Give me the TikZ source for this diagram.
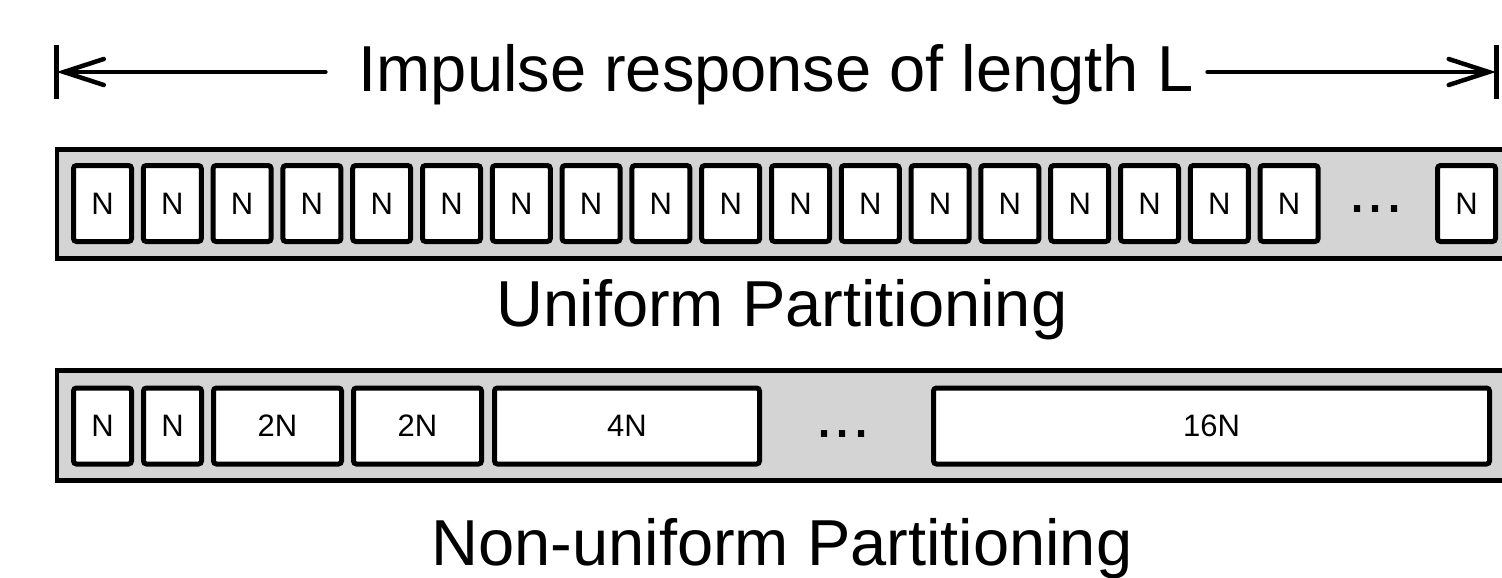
\documentclass[tikz,border=0pt]{standalone}
\usepackage{fontspec}
\setmainfont{Liberation Sans}
\usepackage{xcolor}
\usetikzlibrary{arrows.meta, calc}
\definecolor{bandgray}{RGB}{212, 212, 212}
\newcommand{\bigfont}{\fontsize{65}{78}\selectfont}
\newcommand{\smallfont}{\fontsize{31}{37}\selectfont}

\begin{document}
\begin{tikzpicture}[
    x=1pt, y=-1pt,
    part/.style={rectangle, rounded corners=3pt, draw, line width=5pt, fill=white, minimum width=#1, minimum height=76pt, inner sep=0pt, font=\smallfont},
    band/.style={draw, line width=4.5pt, fill=bandgray},
    dim/.style={-{Straight Barb[length=40pt, width=26pt, line cap=round]}, line width=4.5pt, line cap=round},
    endbar/.style={line width=5pt},
    caption/.style={font=\bigfont, anchor=base, inner sep=0pt}
]
\clip (0,0) rectangle (1502,578);

% length of the impulse response
\node[caption] (title) at (776,92) {Impulse response of length L};
\coordinate (lbar) at (56.5,72);
\coordinate (rbar) at (1496,72);
\draw[endbar] ([yshift=27pt]lbar) -- ([yshift=-27pt]lbar);
\draw[endbar] ([yshift=27pt]rbar) -- ([yshift=-27pt]rbar);
\draw[dim] ($(title.west |- lbar)+(-33,0)$) -- (lbar);
\draw[dim] ($(title.east |- rbar)+(14,0)$) -- (rbar);

% uniform partitioning
\draw[band] (57,149.5) rectangle (1530,258.5);
\foreach \i in {0,...,17}
    \node[part=58pt] (u\i) at ({102.5+69.8*\i},203.5) {N};
\node[caption] (udots) at (1376,212) {...};
\node[part=58pt] (ulast) at (1466.5,203.5) {N};
\node[caption] (ucap) at (782,326) {Uniform Partitioning};

% non-uniform partitioning
\draw[band] (57,370.5) rectangle (1530,480.5);
\node[part=58pt] (n1) at (102.5,426) {N};
\node[part=58pt] (n2) at (172.5,426) {N};
\node[part=128pt] (n3) at (277.5,426) {2N};
\node[part=128pt] (n4) at (417.5,426) {2N};
\node[part=265pt] (n5) at (627,426) {4N};
\node[caption] (ndots) at (843,437) {...};
\node[part=556pt] (n6) at (1211.5,426) {16N};
\node[caption] (ncap) at (782,565) {Non-uniform Partitioning};

\end{tikzpicture}
\end{document}
